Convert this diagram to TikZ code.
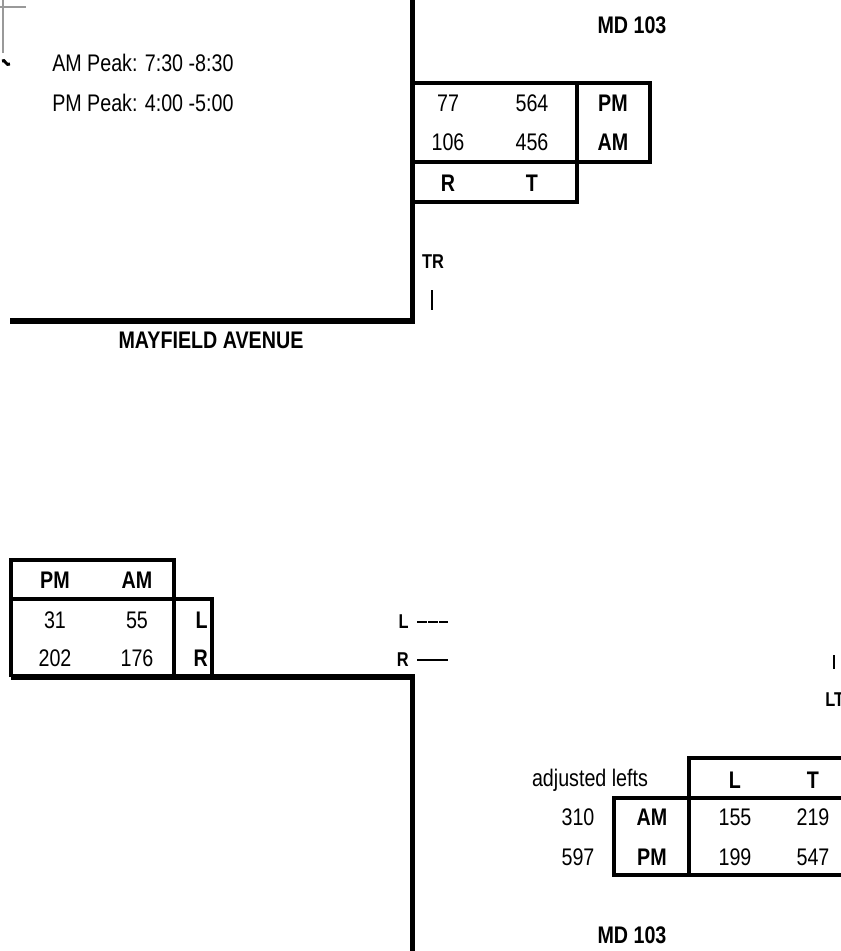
\documentclass[tikz,border=0pt]{standalone}
\usepackage{fontspec}
\setmainfont{Liberation Sans}[FakeStretch=0.82]
\usetikzlibrary{positioning}

\begin{document}
\begin{tikzpicture}[
  x=0.75pt, y=-0.75pt,
  vei/.style={line width=3.8pt},
  rute/.style={line width=2.4pt},
  tall/.style={font=\fontsize{18}{20}\selectfont, inner sep=0pt},
  fet/.style={font=\fontsize{18}{20}\selectfont\bfseries, inner sep=0pt},
  liten/.style={font=\fontsize{15}{17}\selectfont\bfseries, inner sep=0pt},
  strek/.style={line width=1.4pt},
  tynn/.style={draw=gray!80, line width=1.1pt}
]
\clip (0,0) rectangle (841,951);

% hjorne oppe til venstre
\draw[tynn] (3,0) -- (3,53);
\draw[tynn] (0,7) -- (26,7);
\draw[line width=2.2pt] (2,61) .. controls (5,58) and (6,67) .. (10,64);

% veier
\draw[vei] (412.5,0) -- (412.5,321) -- (10,321);
\draw[vei] (11,677) -- (412.5,677) -- (412.5,960);

% tekst oppe
\node[fet] (mdnord) at (632,25) {MD 103};
\node[tall, anchor=west] (ampeak) at (52,63) {AM Peak: 7:30 -8:30};
\node[tall, anchor=west] (pmpeak) at (52,103) {PM Peak: 4:00 -5:00};
\node[fet] (gate) at (211,340) {MAYFIELD AVENUE};

% tabell oppe
\draw[rute] (412,83) -- (650,83) -- (650,162) -- (412,162);
\draw[rute] (577,83) -- (577,202) -- (412,202);
\node[tall] (pmr) at (448,103) {77};
\node[tall] (pmt) at (532,103) {564};
\node[fet] (pmtopp) at (613,103) {PM};
\node[tall] (amr) at (448,142) {106};
\node[tall] (amt) at (532,142) {456};
\node[fet] (amtopp) at (613,142) {AM};
\node[fet] (rtopp) at (448,183) {R};
\node[fet] (ttopp) at (532,183) {T};

\node[liten] (tr) at (433,262) {TR};
\draw[strek] (432,290) -- (432,310);

% tabell nede til venstre
\draw[rute] (11,677) -- (11,560) -- (174,560) -- (174,677);
\draw[rute] (11,599) -- (212,599) -- (212,677);
\node[fet] (pmvenstre) at (55,580) {PM};
\node[fet] (amvenstre) at (137,580) {AM};
\node[tall] (pml) at (55,620) {31};
\node[tall] (aml) at (137,620) {55};
\node[fet, anchor=east] (lvenstre) at (208,620) {L};
\node[tall] (pmrv) at (55,658) {202};
\node[tall] (amrv) at (137,658) {176};
\node[fet, anchor=east] (rvenstre) at (208,658) {R};

\node[liten, anchor=east] (linn) at (409,622) {L};
\draw[strek, dash pattern=on 7.5pt off 0.8pt] ([xshift=6]linn.east) -- ++(31,0);
\node[liten, anchor=east] (rinn) at (409,660) {R};
\draw[strek] ([xshift=6]rinn.east) -- ++(31,0);

\draw[strek] (834,655) -- (834,669);
\node[liten, anchor=west] (lt) at (825,700) {LT};

% tabell nede til hoyre
\node[tall] (justert) at (590,780) {adjusted lefts};
\draw[rute] (845,758) -- (689,758) -- (689,875);
\draw[rute] (845,798) -- (614,798) -- (614,875) -- (845,875);
\node[fet] (lhoyre) at (735,780) {L};
\node[fet] (thoyre) at (813,780) {T};
\node[tall] (amsum) at (578,817) {310};
\node[fet] (amhoyre) at (652,817) {AM};
\node[tall] (amlh) at (735,817) {155};
\node[tall] (amth) at (813,817) {219};
\node[tall] (pmsum) at (578,857) {597};
\node[fet] (pmhoyre) at (652,857) {PM};
\node[tall] (pmlh) at (735,857) {199};
\node[tall] (pmth) at (813,857) {547};

\node[fet] (mdsor) at (632,935) {MD 103};
\end{tikzpicture}
\end{document}
